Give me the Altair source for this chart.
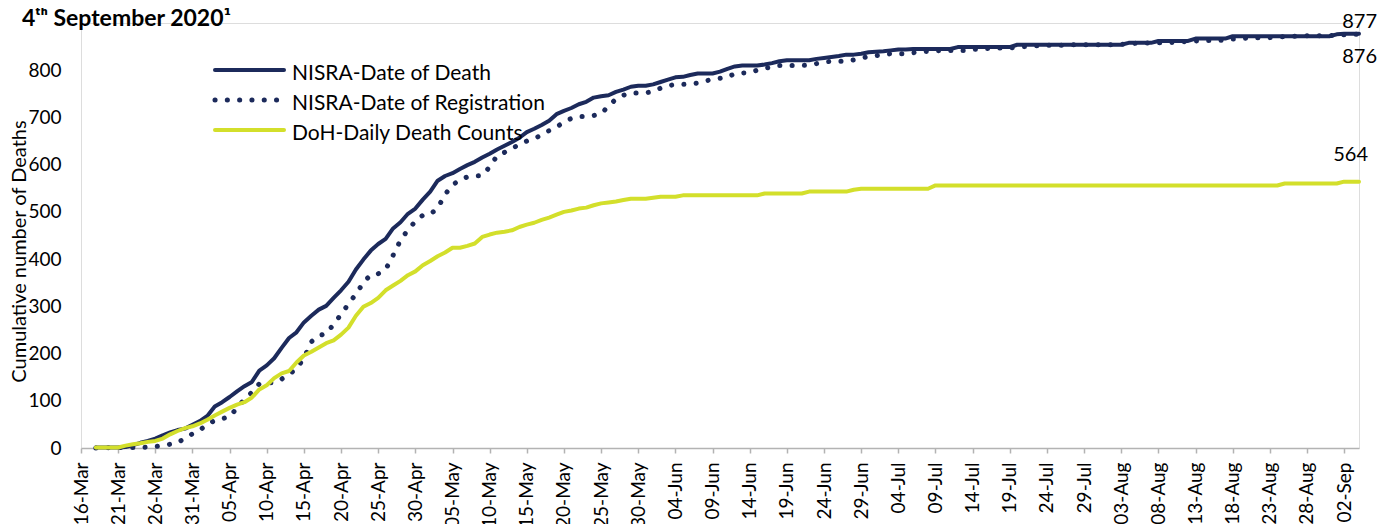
import altair as alt
import pandas as pd

# ---------------- data ----------------
dates = [d.strftime("%Y-%m-%d") for d in pd.date_range("2020-03-16", "2020-09-04", freq="D")]
tick_dates = pd.date_range("2020-03-16", "2020-09-02", freq="5D")

series_names = ["NISRA-Date of Death", "NISRA-Date of Registration", "DoH-Daily Death Counts"]

nisra_death = [
    None, None, 1, 1, 1, 1, 2, 6, 11, 15,
    20, 27, 33, 38, 41, 49, 57, 68, 88, 97,
    108, 120, 131, 140, 164, 175, 190, 212, 233, 245,
    266, 280, 293, 301, 318, 334, 352, 378, 399, 418,
    432, 443, 465, 478, 496, 507, 526, 543, 566, 576,
    582, 591, 599, 606, 615, 623, 632, 640, 648, 657,
    669, 676, 684, 693, 707, 714, 720, 728, 733, 742,
    745, 747, 754, 759, 765, 767, 767, 770, 775, 780,
    785, 786, 790, 793, 793, 793, 797, 803, 808, 810,
    810, 810, 812, 815, 819, 821, 821, 821, 821, 824,
    826, 828, 830, 833, 833, 835, 838, 839, 840, 842,
    844, 844, 845, 845, 845, 845, 845, 845, 849, 849,
    849, 849, 849, 849, 849, 849, 854, 854, 854, 854,
    854, 854, 854, 854, 854, 854, 854, 854, 854, 854,
    854, 858, 858, 858, 858, 862, 862, 862, 862, 862,
    867, 867, 867, 867, 867, 872, 872, 872, 872, 872,
    872, 872, 872, 872, 872, 872, 872, 872, 872, 876,
    877, 877, 877,
]

nisra_registration = [
    None, None, 0, 0, 1, 1, 1, 1, 1, 2,
    3, 5, 8, 11, 21, 30, 38, 50, 58, 62,
    66, 85, 103, 118, 136, 138, 138, 146, 156, 168,
    190, 225, 238, 242, 262, 283, 305, 326, 350, 367,
    369, 378, 408, 440, 462, 480, 493, 495, 508, 537,
    557, 568, 574, 576, 577, 595, 619, 626, 634, 643,
    650, 655, 663, 672, 680, 690, 698, 702, 702, 704,
    708, 724, 739, 747, 752, 752, 752, 755, 762, 767,
    770, 770, 771, 773, 777, 781, 783, 785, 793, 794,
    795, 800, 804, 807, 810, 810, 810, 810, 811, 814,
    817, 819, 819, 819, 822, 826, 829, 831, 833, 835,
    835, 835, 837, 839, 840, 841, 842, 842, 842, 842,
    844, 845, 846, 847, 847, 847, 849, 850, 851, 852,
    853, 853, 853, 854, 854, 854, 854, 854, 854, 854,
    855, 856, 857, 857, 858, 858, 858, 859, 860, 861,
    862, 863, 863, 863, 864, 866, 867, 868, 869, 869,
    869, 870, 871, 872, 872, 873, 873, 873, 873, 874,
    875, 876, 876,
]

doh_daily = [
    None, None, 1, 1, 1, 1, 5, 8, 10, 13,
    15, 20, 29, 36, 42, 46, 52, 60, 69, 77,
    85, 92, 97, 107, 124, 133, 148, 158, 163, 181,
    196, 204, 213, 222, 228, 240, 255, 280, 299, 307,
    318, 334, 344, 354, 366, 374, 387, 396, 406, 414,
    424, 424, 428, 433, 447, 452, 456, 458, 461, 468,
    473, 477, 483, 488, 494, 500, 503, 507, 509, 514,
    518, 520, 522, 525, 528, 528, 528, 530, 532, 532,
    532, 535, 535, 535, 535, 535, 535, 535, 535, 535,
    535, 535, 539, 539, 539, 539, 539, 539, 543, 543,
    543, 543, 543, 543, 547, 549, 549, 549, 549, 549,
    549, 549, 549, 549, 549, 556, 556, 556, 556, 556,
    556, 556, 556, 556, 556, 556, 556, 556, 556, 556,
    556, 556, 556, 556, 556, 556, 556, 556, 556, 556,
    556, 556, 556, 556, 556, 556, 556, 556, 556, 556,
    556, 556, 556, 556, 556, 556, 556, 556, 556, 556,
    556, 556, 560, 560, 560, 560, 560, 560, 560, 560,
    564, 564, 564,
]

y_ticks = [0, 100, 200, 300, 400, 500, 600, 700, 800]
title_text = "4ᵗʰ September 2020¹"
y_title = "Cumulative number of Deaths"

NAVY = "#1c2a5b"
YELLOW = "#d3df2b"
AXIS_GREY = "#b3b3b3"
FONT = "Lato"

# ---------------- tables ----------------
rows = []
for name, vals in zip(series_names, [nisra_death, nisra_registration, doh_daily]):
    for dt, v in zip(dates, vals):
        if v is not None:
            rows.append({"date": dt, "series": name, "value": v})
df = pd.DataFrame(rows)

ends = pd.DataFrame({
    "date": [dates[-1]] * 3,
    "series": series_names,
    "value": [nisra_death[-1], nisra_registration[-1], doh_daily[-1]],
})

def ms(ts):
    return int(pd.Timestamp(ts).tz_localize("UTC").value // 10**6)

x_domain = [ms(pd.Timestamp(dates[0])), ms(pd.Timestamp(dates[-1]))]
tick_values = [ms(t) for t in tick_dates]

x_enc = alt.X(
    "date:T",
    scale=alt.Scale(type="utc", domain=x_domain),
    axis=alt.Axis(
        values=tick_values, format="%d-%b", title=None, labelAngle=270,
        labelFontSize=19, labelFont=FONT, labelColor="#000000", labelPadding=9,
        labelOverlap=False, domainColor=AXIS_GREY, domainWidth=1.5,
        tickColor=AXIS_GREY, tickWidth=1.5, tickSize=5, grid=False,
    ),
)
y_enc = alt.Y(
    "value:Q",
    scale=alt.Scale(domain=[0, 900], nice=False),
    axis=alt.Axis(
        values=y_ticks, title=y_title, domain=False, ticks=False, grid=False,
        labelFontSize=19, labelFont=FONT, labelColor="#000000", labelPadding=20,
        titleFont=FONT, titleFontSize=20, titleFontWeight="normal", titleColor="#000000",
        titleAngle=270, titleX=-62, titleY=228, titleAlign="center", titleBaseline="middle",
    ),
)

base = alt.Chart(df)

line_death = base.transform_filter(alt.datum.series == series_names[0]).mark_line(
    color=NAVY, strokeWidth=4, strokeJoin="round", strokeCap="round"
).encode(x=x_enc, y=y_enc)

line_reg = base.transform_filter(alt.datum.series == series_names[1]).mark_line(
    color=NAVY, strokeWidth=5, strokeDash=[0.1, 12.2], strokeCap="round"
).encode(x=x_enc, y=y_enc)

line_doh = base.transform_filter(alt.datum.series == series_names[2]).mark_line(
    color=YELLOW, strokeWidth=4, strokeJoin="round", strokeCap="round"
).encode(x=x_enc, y=y_enc)

# end labels
end_specs = [(0, 18, -6), (1, 18, 29), (2, 9, -21)]
end_layers = []
for idx, dx, dy in end_specs:
    end_layers.append(
        alt.Chart(ends).transform_filter(alt.datum.series == series_names[idx]).mark_text(
            align="right", baseline="alphabetic", dx=dx, dy=dy, font=FONT, fontSize=20, color="#000000"
        ).encode(x=x_enc, y=y_enc, text=alt.Text("value:Q"))
    )

# legend (drawn manually so the dotted entry keeps round dots)
legend_layers = []
legend_styles = [
    dict(color=NAVY, strokeWidth=4, strokeCap="round"),
    dict(color=NAVY, strokeWidth=5, strokeCap="round", strokeDash=[0.1, 12.2]),
    dict(color=YELLOW, strokeWidth=4, strokeCap="round"),
]
legend_y = [47, 77, 107]
for name, style, ly in zip(series_names, legend_styles, legend_y):
    ldf = pd.DataFrame({"label": [name]})
    legend_layers.append(
        alt.Chart(ldf).mark_rule(**style).encode(
            x=alt.value(134), x2=alt.value(203), y=alt.value(ly)
        )
    )
    legend_layers.append(
        alt.Chart(ldf).mark_text(
            align="left", baseline="alphabetic", font=FONT, fontSize=21, color="#000000"
        ).encode(x=alt.value(211), y=alt.value(ly + 9.5), text="label:N")
    )

title_layer = alt.Chart(pd.DataFrame({"t": [title_text]})).mark_text(
    align="left", baseline="alphabetic", font=FONT, fontSize=23, fontWeight="bold", color="#000000"
).encode(x=alt.value(-59), y=alt.value(3), text="t:N")

chart = alt.layer(
    line_death, line_reg, line_doh, *end_layers, *legend_layers, title_layer
).properties(
    width=1278, height=425,
    padding={"left": 73, "top": 15, "right": 19, "bottom": 76},
    autosize=alt.AutoSizeParams(type="none"),
).configure_view(stroke=None).configure(background="#ffffff")

chart.save("out.html", embed_options={"renderer": "svg", "actions": False})
